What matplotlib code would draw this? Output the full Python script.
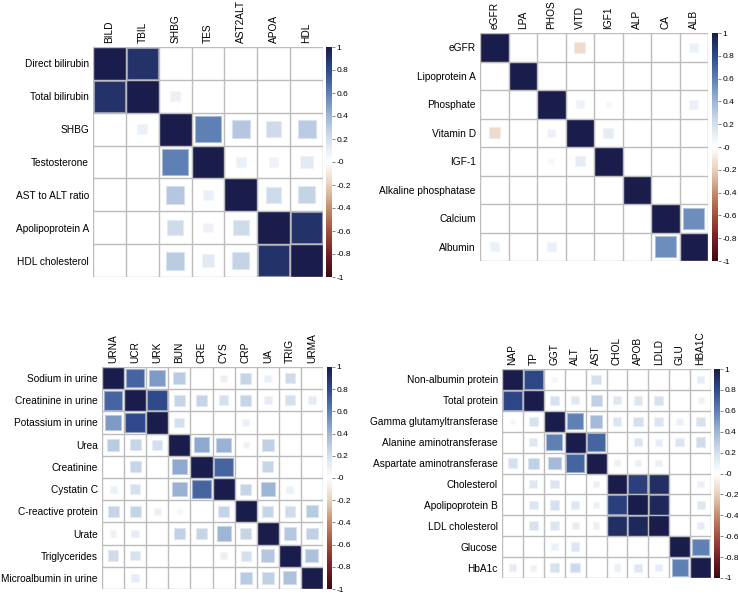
import numpy as np
import matplotlib.pyplot as plt
from matplotlib.colors import LinearSegmentedColormap, Normalize, to_rgb
from matplotlib.patches import Rectangle
from matplotlib.colorbar import ColorbarBase

plt.rcParams['font.family'] = ['Liberation Sans', 'DejaVu Sans']
plt.rcParams['axes.unicode_minus'] = False

# --- data ---------------------------------------------------------------
cols1 = ['BILD', 'TBIL', 'SHBG', 'TES', 'AST2ALT', 'APOA', 'HDL']
rows1 = ['Direct bilirubin', 'Total bilirubin', 'SHBG', 'Testosterone',
         'AST to ALT ratio', 'Apolipoprotein A', 'HDL cholesterol']
r1 = [[1.00, 0.90, 0.00, 0.00, 0.00, 0.00, 0.00],
      [0.90, 1.00, 0.10, 0.00, 0.00, 0.00, 0.00],
      [0.00, 0.10, 1.00, 0.60, 0.32, 0.22, 0.30],
      [0.00, 0.00, 0.60, 1.00, 0.10, 0.08, 0.14],
      [0.00, 0.00, 0.32, 0.10, 1.00, 0.22, 0.26],
      [0.00, 0.00, 0.22, 0.08, 0.22, 1.00, 0.90],
      [0.00, 0.00, 0.30, 0.14, 0.26, 0.90, 1.00]]

cols2 = ['eGFR', 'LPA', 'PHOS', 'VITD', 'IGF1', 'ALP', 'CA', 'ALB']
rows2 = ['eGFR', 'Lipoprotein A', 'Phosphate', 'Vitamin D', 'IGF-1',
         'Alkaline phosphatase', 'Calcium', 'Albumin']
r2 = [[1.00, 0.00, 0.00, -0.15, 0.00, 0.00, 0.00, 0.10],
      [0.00, 1.00, 0.00, 0.00, 0.00, 0.00, 0.00, 0.00],
      [0.00, 0.00, 1.00, 0.08, 0.05, 0.00, 0.00, 0.10],
      [-0.15, 0.00, 0.08, 1.00, 0.12, 0.00, 0.00, 0.00],
      [0.00, 0.00, 0.05, 0.12, 1.00, 0.00, 0.00, 0.00],
      [0.00, 0.00, 0.00, 0.00, 0.00, 1.00, 0.00, 0.00],
      [0.00, 0.00, 0.00, 0.00, 0.00, 0.00, 1.00, 0.55],
      [0.10, 0.00, 0.10, 0.00, 0.00, 0.00, 0.55, 1.00]]

cols3 = ['URNA', 'UCR', 'URK', 'BUN', 'CRE', 'CYS', 'CRP', 'UA', 'TRIG', 'URMA']
rows3 = ['Sodium in urine', 'Creatinine in urine', 'Potassium in urine', 'Urea',
         'Creatinine', 'Cystatin C', 'C-reactive protein', 'Urate',
         'Triglycerides', 'Microalbumin in urine']
r3 = [[1.00, 0.70, 0.50, 0.30, 0.00, 0.10, 0.25, 0.10, 0.22, 0.00],
      [0.70, 1.00, 0.80, 0.25, 0.25, 0.20, 0.25, 0.12, 0.20, 0.12],
      [0.50, 0.80, 1.00, 0.20, 0.00, 0.00, 0.10, 0.00, 0.00, 0.00],
      [0.30, 0.25, 0.20, 1.00, 0.45, 0.42, 0.08, 0.28, 0.00, 0.00],
      [0.00, 0.25, 0.00, 0.45, 1.00, 0.70, 0.00, 0.25, 0.00, 0.00],
      [0.10, 0.20, 0.00, 0.42, 0.70, 1.00, 0.25, 0.40, 0.10, 0.00],
      [0.25, 0.25, 0.10, 0.06, 0.00, 0.25, 1.00, 0.25, 0.22, 0.30],
      [0.08, 0.12, 0.00, 0.28, 0.25, 0.40, 0.25, 1.00, 0.32, 0.28],
      [0.22, 0.18, 0.00, 0.00, 0.00, 0.10, 0.20, 0.32, 1.00, 0.35],
      [0.00, 0.12, 0.00, 0.00, 0.00, 0.00, 0.30, 0.28, 0.35, 1.00]]

cols4 = ['NAP', 'TP', 'GGT', 'ALT', 'AST', 'CHOL', 'APOB', 'LDLD', 'GLU', 'HBA1C']
rows4 = ['Non-albumin protein', 'Total protein', 'Gamma glutamyltransferase',
         'Alanine aminotransferase', 'Aspartate aminotransferase', 'Cholesterol',
         'Apolipoprotein B', 'LDL cholesterol', 'Glucose', 'HbA1c']
r4 = [[1.00, 0.82, 0.06, 0.00, 0.20, 0.00, 0.00, 0.00, 0.00, 0.12],
      [0.82, 1.00, 0.18, 0.15, 0.28, 0.15, 0.17, 0.18, 0.00, 0.08],
      [0.06, 0.18, 1.00, 0.60, 0.38, 0.17, 0.20, 0.17, 0.10, 0.18],
      [0.00, 0.15, 0.60, 1.00, 0.70, 0.00, 0.17, 0.12, 0.17, 0.22],
      [0.20, 0.28, 0.38, 0.70, 1.00, 0.10, 0.10, 0.10, 0.00, 0.00],
      [0.00, 0.15, 0.17, 0.00, 0.10, 1.00, 0.85, 0.92, 0.00, 0.10],
      [0.00, 0.17, 0.20, 0.17, 0.10, 0.85, 1.00, 0.95, 0.00, 0.15],
      [0.00, 0.18, 0.17, 0.12, 0.10, 0.92, 0.95, 1.00, 0.00, 0.12],
      [0.00, 0.00, 0.10, 0.17, 0.00, 0.00, 0.00, 0.00, 1.00, 0.60],
      [0.12, 0.08, 0.18, 0.22, 0.00, 0.10, 0.15, 0.12, 0.60, 1.00]]

# --- style --------------------------------------------------------------
W, H = 738, 594
cmap = LinearSegmentedColormap.from_list('corr', [
    '#3b0a17', '#761f27', '#a2503c', '#c38e6c', '#ead0bb', '#ffffff',
    '#d5e0ee', '#9fb6d6', '#5e80b5', '#2f4a8c', '#1a1d4b'])
norm = Normalize(-1, 1)
GRID = '#bcbcbc'
FS = 7.3

fig = plt.figure(figsize=(W / 100, H / 100), dpi=100)


def px_axes(x0, y0, x1, y1):
    return fig.add_axes([x0 / W, 1 - y1 / H, (x1 - x0) / W, (y1 - y0) / H])


def corr_panel(box, cbox, rows, cols, r):
    r = np.array(r)
    n = len(rows)
    ax = px_axes(*box)
    ax.set_xlim(0, n)
    ax.set_ylim(n, 0)
    for i in range(n):
        for j in range(n):
            v = r[i, j]
            if abs(v) < 0.01:
                continue
            s = np.sqrt(abs(v))
            c = cmap(norm(v))
            edge = 0.55 * np.array(to_rgb(c)) + 0.45
            ax.add_patch(Rectangle((j + 0.5 - s / 2, i + 0.5 - s / 2), s, s,
                                   facecolor=c, edgecolor=edge, lw=0.8, zorder=1))
    for k in range(n + 1):
        ax.axhline(k, color=GRID, lw=1.0, zorder=3)
        ax.axvline(k, color=GRID, lw=1.0, zorder=3)
    for sp in ax.spines.values():
        sp.set_visible(False)
    ax.xaxis.tick_top()
    ax.set_xticks(np.arange(n) + 0.5)
    ax.set_xticklabels(cols, rotation=90, fontsize=FS)
    ax.set_yticks(np.arange(n) + 0.5)
    ax.set_yticklabels(rows, fontsize=FS)
    ax.tick_params(length=0, pad=3)

    cax = px_axes(*cbox)
    ticks = np.round(np.arange(-1, 1.01, 0.2), 1)
    cb = ColorbarBase(cax, cmap=cmap, norm=norm, ticks=ticks)
    cb.outline.set_visible(False)
    cb.set_ticklabels([f'{t:g}' for t in ticks])
    cax.tick_params(length=2, width=0.5, labelsize=6, pad=1, color='#555555')


corr_panel((93, 47, 323, 277), (326, 47, 332, 277), rows1, cols1, r1)
corr_panel((480, 33, 708, 261), (712, 33, 718, 261), rows2, cols2, r2)
corr_panel((102, 367, 323, 589), (327, 367, 332, 589), rows3, cols3, r3)
corr_panel((502, 369, 711, 578), (714, 369, 720, 578), rows4, cols4, r4)

fig.savefig('out.png', dpi=100)
